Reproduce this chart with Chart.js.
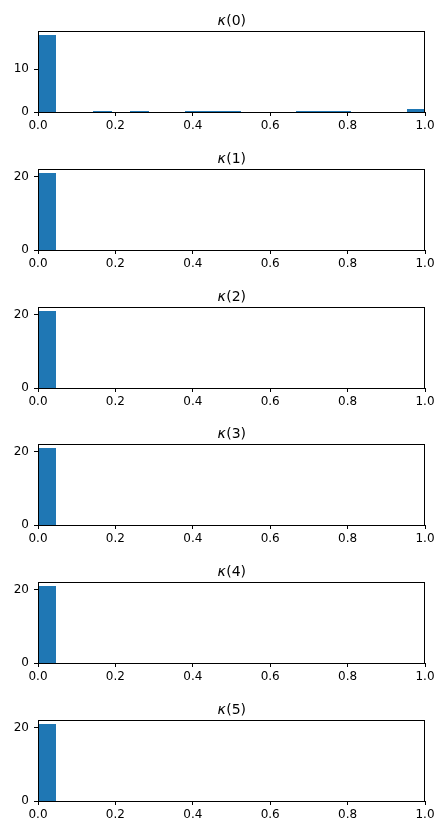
<!DOCTYPE html>
<html lang="en">
<head>
  <meta charset="UTF-8" />
  <title>Kappa histograms</title>
  <script src="https://cdn.jsdelivr.net/npm/chart.js"></script>
  <style>
    body { margin: 0; background: #fff; width: 446px; height: 835px; position: relative; overflow: hidden; }
    canvas { position: absolute; left: 0; }
  </style>
</head>
<body>
  <div id="plots"></div>

  <script>
    // histogram bins: 21 bins over [0, 1], density normalised
    const binCenters = [0.0238, 0.0714, 0.1190, 0.1667, 0.2143, 0.2619, 0.3095, 0.3571, 0.4048, 0.4524, 0.5,
                        0.5476, 0.5952, 0.6429, 0.6905, 0.7381, 0.7857, 0.8333, 0.8810, 0.9286, 0.9762];
    const titleArgs = ["0", "1", "2", "3", "4", "5"];
    const kappa0 = [18.0, 0, 0, 0.3, 0, 0.3, 0, 0, 0.3, 0.3, 0.3, 0, 0, 0, 0.3, 0.3, 0.3, 0, 0, 0, 0.6];
    const kappa1 = [21, 0, 0, 0, 0, 0, 0, 0, 0, 0, 0, 0, 0, 0, 0, 0, 0, 0, 0, 0, 0];
    const kappa2 = [21, 0, 0, 0, 0, 0, 0, 0, 0, 0, 0, 0, 0, 0, 0, 0, 0, 0, 0, 0, 0];
    const kappa3 = [21, 0, 0, 0, 0, 0, 0, 0, 0, 0, 0, 0, 0, 0, 0, 0, 0, 0, 0, 0, 0];
    const kappa4 = [21, 0, 0, 0, 0, 0, 0, 0, 0, 0, 0, 0, 0, 0, 0, 0, 0, 0, 0, 0, 0];
    const kappa5 = [21, 0, 0, 0, 0, 0, 0, 0, 0, 0, 0, 0, 0, 0, 0, 0, 0, 0, 0, 0, 0];
    const xTicks = [0, 0.2, 0.4, 0.6, 0.8, 1.0];
    const yTicks0 = [0, 10];
    const yTicksRest = [0, 20];
    const yMax0 = 18.9;
    const yMaxRest = 22.05;

    const series = [kappa0, kappa1, kappa2, kappa3, kappa4, kappa5];
    const FONT = "'DejaVu Sans', sans-serif";

    // box around the plot area, like matplotlib spines
    const framePlugin = {
      id: 'frame',
      afterDraw(chart) {
        const a = chart.chartArea, ctx = chart.ctx;
        ctx.save();
        ctx.strokeStyle = '#000';
        ctx.lineWidth = 1;
        ctx.strokeRect(Math.round(a.left) + 0.5, Math.round(a.top) + 0.5,
                       Math.round(a.right - a.left) - 1, Math.round(a.bottom - a.top));
        ctx.restore();
      }
    };

    // snap bar edges to whole pixels (matplotlib's Agg does the same)
    const snapBars = {
      id: 'snapBars',
      beforeDatasetsDraw(chart) {
        chart.getDatasetMeta(0).data.forEach(el => {
          const l = Math.round(el.x - el.width / 2), r = Math.round(el.x + el.width / 2);
          el.width = r - l;
          el.x = l + el.width / 2;
          el.y = Math.round(el.y);
          el.base = Math.round(el.base);
        });
      }
    };

    // mathtext-like title: italic kappa, upright "(n)"
    const kappaTitle = {
      id: 'kappaTitle',
      afterDraw(chart, args, opts) {
        const a = chart.chartArea, ctx = chart.ctx;
        const part1 = 'κ', part2 = '(' + opts.arg + ')';
        ctx.save();
        ctx.fillStyle = '#000';
        ctx.textBaseline = 'alphabetic';
        ctx.textAlign = 'left';
        ctx.font = "oblique 14px " + FONT;
        const w1 = ctx.measureText(part1).width;
        ctx.font = "14px " + FONT;
        const w2 = ctx.measureText(part2).width;
        const x0 = (a.left + a.right) / 2 - (w1 + w2) / 2;
        const yb = a.top - 6.5;
        ctx.font = "oblique 14px " + FONT;
        ctx.fillText(part1, x0, yb);
        ctx.font = "14px " + FONT;
        ctx.fillText(part2, x0 + w1 + 0.5, yb);
        ctx.restore();
      }
    };

    series.forEach((vals, i) => {
      const canvas = document.createElement('canvas');
      canvas.width = 446;
      canvas.height = 138;
      canvas.style.top = (Math.round(i * 137.8) + 1) + 'px';
      document.getElementById('plots').appendChild(canvas);

      const yTicks = i === 0 ? yTicks0 : yTicksRest;
      const yMax = i === 0 ? yMax0 : yMaxRest;

      new Chart(canvas.getContext('2d'), {
        type: 'bar',
        data: {
          datasets: [{
            data: vals.map((v, k) => ({ x: binCenters[k], y: v })),
            backgroundColor: c => (c.raw && c.raw.y > 0) ? '#1f77b4' : 'rgba(0,0,0,0)',
            borderWidth: 0,
            inflateAmount: 0,
            barPercentage: 1,
            categoryPercentage: 1
          }]
        },
        options: {
          responsive: false,
          animation: false,
          layout: { padding: { left: 0, right: 21, top: 30, bottom: 0 } },
          scales: {
            x: {
              type: 'linear',
              min: 0, max: 1,
              offset: false,
              grid: { display: true, drawOnChartArea: false, drawTicks: true, tickLength: 4, color: '#000', offset: false },
              border: { display: true, color: '#000', width: 1 },
              ticks: { font: { family: FONT, size: 12 }, color: '#000', padding: 3, maxRotation: 0,
                       callback: v => v.toFixed(1) },
              afterBuildTicks: s => { s.ticks = xTicks.map(v => ({ value: v })); },
              afterFit: s => { s.height = 27; }
            },
            y: {
              min: 0, max: yMax,
              grid: { display: true, drawOnChartArea: false, drawTicks: true, tickLength: 4, color: '#000' },
              border: { display: true, color: '#000', width: 1 },
              ticks: { font: { family: FONT, size: 12 }, color: '#000', padding: 5 },
              afterBuildTicks: s => { s.ticks = yTicks.map(v => ({ value: v })); },
              afterFit: s => { s.width = 38; }
            }
          },
          plugins: {
            legend: { display: false },
            tooltip: { enabled: false },
            title: { display: false },
            kappaTitle: { arg: titleArgs[i] }
          }
        },
        plugins: [snapBars, framePlugin, kappaTitle]
      });
    });
  </script>
</body>
</html>
